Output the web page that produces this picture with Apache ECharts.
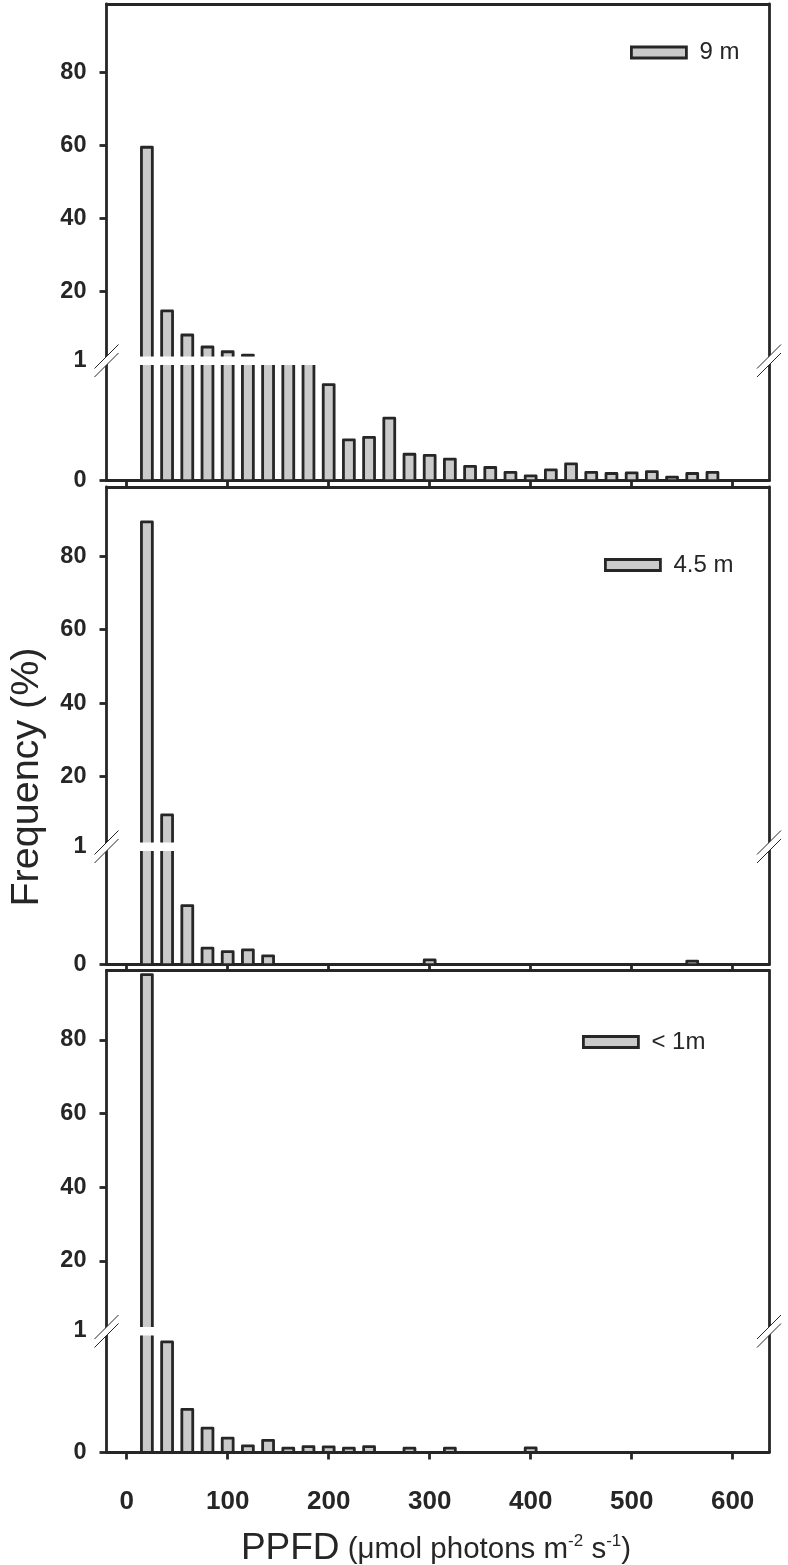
<!DOCTYPE html>
<html><head><meta charset="utf-8">
<script src="https://cdn.jsdelivr.net/npm/echarts@6/dist/echarts.min.js"></script>
<style>html,body{margin:0;padding:0;background:#fff}#c{width:788px;height:1565px}</style>
</head><body><div id="c"></div>
<script>
// ---------------- data ----------------
const bins = [20,40,60,80,100,120,140,160,180,200,220,240,260,280,300,320,340,360,380,400,420,440,460,480,500,520,540,560,580,600];
const freq9m  = [59.5,14.6,8.0,4.7,3.4,2.5,1.8,1.6,1.4,0.80,0.34,0.36,0.52,0.22,0.21,0.18,0.12,0.11,0.07,0.04,0.09,0.14,0.07,0.06,0.065,0.075,0.03,0.06,0.07,0];
const freq45m = [89.3,9.6,0.50,0.14,0.11,0.125,0.075,0,0,0,0,0,0,0,0.04,0,0,0,0,0,0,0,0,0,0,0,0,0.03,0,0];
const freq1m  = [97.7,0.91,0.355,0.20,0.118,0.055,0.10,0.036,0.048,0.047,0.036,0.048,0,0.036,0,0.036,0,0,0,0.038,0,0,0,0,0,0,0,0,0,0];
const seriesNames = ['9 m','4.5 m','< 1m'];
const yUpperTicks = [20,40,60,80];
const yLowerTicks = [0];
const yLowerLabels = [0,1];
const xTicks = [0,100,200,300,400,500,600];

// ---------------- style / layout ----------------
const FONT = 'Liberation Sans, Arial, sans-serif';
const INK = '#262626';
const FILL = '#cacaca';
const LW = 2.8;
const X_MIN = -20, X_MAX = 636, BAR_W = 10.8;
const Y_BREAK = 1, Y_MAX = 98.8;
const GAP_UP = 4, GAP_DOWN = 4.5;
const LEFT = 106.5, RIGHT_EDGE = 769;
const panels = [
  {top:4,     brk:360.5, bottom:480.7,  ticksLen:6, labels:false, legend:{left:630, top:39.5}},
  {top:487,   brk:846.5, bottom:964.7,  ticksLen:6, labels:false, legend:{left:604, top:552}},
  {top:970.5, brk:1331,  bottom:1452.5, ticksLen:7, labels:true,  legend:{left:582, top:1029}}
];
const dataSets = [freq9m, freq45m, freq1m];

function renderUpper(params, api){
  const v = api.value(1);
  if (!(v > Y_BREAK)) return;
  const cs = params.coordSys;
  const x = api.value(0);
  const c = api.coord([x, v]);
  const w = api.size([BAR_W, 0])[0];
  const bottom = cs.y + cs.height - GAP_UP;
  const top = c[1];
  if (top >= bottom - 0.3) return;
  const l = c[0] - w/2, r = c[0] + w/2;
  return {type:'group', children:[
    {type:'rect', shape:{x:l, y:top, width:w, height:bottom-top}, style:{fill:FILL}},
    {type:'polyline', shape:{points:[[l,bottom],[l,top],[r,top],[r,bottom]]},
     style:{stroke:INK, lineWidth:LW, fill:null, lineJoin:'round'}}
  ]};
}
function renderLower(params, api){
  const v = api.value(1);
  if (!(v > 0)) return;
  const cs = params.coordSys;
  const x = api.value(0);
  const base = api.coord([x, 0]);
  const w = api.size([BAR_W, 0])[0];
  const l = base[0] - w/2, r = base[0] + w/2;
  if (v <= Y_BREAK) {
    const top = api.coord([x, v])[1];
    return {type:'rect', shape:{x:l, y:top, width:w, height:base[1]-top},
      style:{fill:FILL, stroke:INK, lineWidth:LW, lineJoin:'round'}};
  }
  const top = cs.y + GAP_DOWN;
  return {type:'group', children:[
    {type:'rect', shape:{x:l, y:top, width:w, height:base[1]-top}, style:{fill:FILL}},
    {type:'polyline', shape:{points:[[l,top],[l,base[1]],[r,base[1]],[r,top]]},
     style:{stroke:INK, lineWidth:LW, fill:null, lineJoin:'round'}}
  ]};
}

const axisLine = {show:true, onZero:false, lineStyle:{color:INK, width:LW}};
const grids = [], xAxes = [], yAxes = [], series = [], legends = [], graphics = [];

panels.forEach((p, i) => {
  const gu = grids.length;
  grids.push({left:LEFT, right:788-RIGHT_EDGE, top:p.top, height:p.brk - p.top});
  grids.push({left:LEFT, right:788-RIGHT_EDGE, top:p.brk, height:p.bottom - p.brk});
  const gl = gu + 1;
  xAxes.push({gridIndex:gu, type:'value', min:X_MIN, max:X_MAX, position:'top',
    axisLine, axisTick:{show:false}, axisLabel:{show:false}, splitLine:{show:false}});
  xAxes.push({gridIndex:gl, type:'value', min:X_MIN, max:X_MAX, position:'bottom',
    axisLine, splitLine:{show:false},
    axisTick:{show:true, inside:false, length:p.ticksLen, customValues:xTicks, lineStyle:{color:INK, width:LW}},
    axisLabel:{show:p.labels, customValues:xTicks, margin:36, fontFamily:FONT, fontWeight:'bold', fontSize:26, color:INK}});
  const yu = yAxes.length;
  yAxes.push({gridIndex:gu, type:'value', min:Y_BREAK, max:Y_MAX, position:'left',
    axisLine, splitLine:{show:false},
    axisTick:{show:true, length:7, customValues:yUpperTicks, lineStyle:{color:INK, width:LW}},
    axisLabel:{customValues:yUpperTicks, margin:20, fontFamily:FONT, fontWeight:'bold', fontSize:23.5, color:INK}});
  yAxes.push({gridIndex:gu, type:'value', min:Y_BREAK, max:Y_MAX, position:'right',
    axisLine, axisTick:{show:false}, axisLabel:{show:false}, splitLine:{show:false}});
  const yl = yAxes.length;
  yAxes.push({gridIndex:gl, type:'value', min:0, max:Y_BREAK, position:'left',
    axisLine, splitLine:{show:false},
    axisTick:{show:true, length:7, customValues:yLowerTicks, lineStyle:{color:INK, width:LW}},
    axisLabel:{customValues:yLowerLabels, margin:20, fontFamily:FONT, fontWeight:'bold', fontSize:23.5, color:INK}});
  yAxes.push({gridIndex:gl, type:'value', min:0, max:Y_BREAK, position:'right',
    axisLine, axisTick:{show:false}, axisLabel:{show:false}, splitLine:{show:false}});

  const data = bins.map((b, k) => [b, dataSets[i][k]]);
  series.push({type:'custom', name:seriesNames[i], xAxisIndex:gu, yAxisIndex:yu, data,
    renderItem:renderUpper, itemStyle:{color:FILL}, z:3, silent:true, clip:false});
  series.push({type:'custom', name:seriesNames[i], xAxisIndex:gl, yAxisIndex:yl, data,
    renderItem:renderLower, itemStyle:{color:FILL}, z:3, silent:true, clip:false});

  legends.push({left:p.legend.left, top:p.legend.top, padding:0, itemWidth:55, itemHeight:11,
    selectedMode:false,
    data:[{name:seriesNames[i], icon:'rect', itemStyle:{color:FILL, borderColor:INK, borderWidth:LW}}],
    textStyle:{fontFamily:FONT, fontSize:24, color:INK, lineHeight:26, padding:[0,0,0,8]}});

  [LEFT, RIGHT_EDGE].forEach(ax => {
    const y1 = p.brk - GAP_UP, y2 = p.brk + GAP_DOWN, d = 12;
    graphics.push({type:'polygon', z:100, shape:{points:[[ax-d, y1+d],[ax+d, y1-d],[ax+d, y2-d],[ax-d, y2+d]]},
      style:{fill:'#fff'}});
    graphics.push({type:'line', z:101, shape:{x1:ax-d, y1:y1+d, x2:ax+d, y2:y1-d}, style:{stroke:INK, lineWidth:1}});
    graphics.push({type:'line', z:101, shape:{x1:ax-d, y1:y2+d, x2:ax+d, y2:y2-d}, style:{stroke:INK, lineWidth:1}});
  });
});

graphics.push({type:'text', z:100, x:27, y:777, rotation:Math.PI/2,
  style:{text:'Frequency (%)', font:'39.5px ' + FONT, fill:INK, align:'center', verticalAlign:'middle'}});
graphics.push({type:'text', z:100, x:436, y:1547,
  style:{text:'{a|PPFD}{b| (μmol photons m}{s|-2}{b| s}{s|-1}{b|)}', fill:INK, align:'center', verticalAlign:'middle',
    rich:{
      a:{fontFamily:FONT, fontSize:37, lineHeight:40, verticalAlign:'bottom', fill:INK},
      b:{fontFamily:FONT, fontSize:29.5, lineHeight:32, verticalAlign:'bottom', fill:INK, padding:[0,0,2,0]},
      s:{fontFamily:FONT, fontSize:17, lineHeight:18, verticalAlign:'bottom', fill:INK, padding:[0,0,17,0]}
    }}});

const chart = echarts.init(document.getElementById('c'), null, {renderer:'canvas'});
chart.setOption({
  animation:false,
  backgroundColor:'#fff',
  grid:grids, xAxis:xAxes, yAxis:yAxes, series, legend:legends, graphic:graphics
});
</script></body></html>
